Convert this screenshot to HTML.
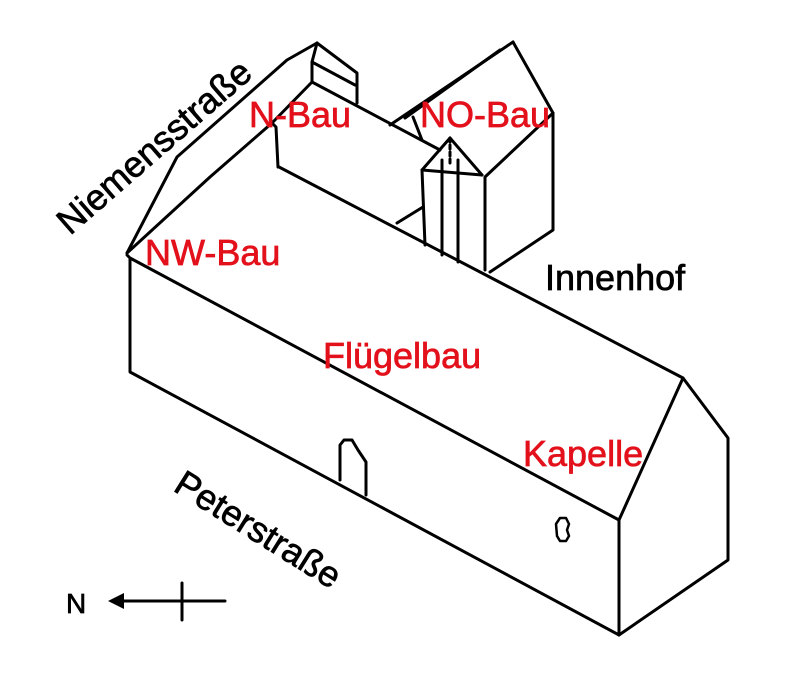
<!DOCTYPE html>
<html><head><meta charset="utf-8"><style>
html,body{margin:0;padding:0;background:#fff;}
svg{display:block;}
text{font-family:"Liberation Sans",sans-serif;}
</style></head><body>
<svg width="800" height="678" viewBox="0 0 800 678" xmlns="http://www.w3.org/2000/svg">
<g fill="none" stroke="#000" stroke-width="3" stroke-linejoin="round" stroke-linecap="round">
<path d="M127,255 L130,258 L130,372 L619,635 L619,520 L130,258"/>
<path d="M619,520 L683,378 L728,438 L728,560 L619,635"/>
<path d="M279,167 L683,378"/>
<path d="M127,253 L177,157 L287,60 L317,43"/>
<path d="M127,253 L210,177 L272,123 L312,82"/>
<path d="M317,43 L357,73 L357,103"/>
<path d="M312,82 L312,62 L317,43"/>
<path d="M312,62 L355,85"/>
<path d="M312,82 L440,150"/>
<path d="M272,123 L276,127 L278,167"/>
<path d="M513,42 L390,125"/>
<path d="M500,50 L405,118"/>
<path d="M513,42 L553,113 L553,230 L490,272"/>
<path d="M553,113 L485,177 L485,270"/>
<path d="M413,117 L422,140"/>
<path d="M450,138 L422,170 L425,245"/>
<path d="M450,138 L482,175"/>
<path d="M442,160 L442,255"/>
<path d="M458,160 L458,262"/>
<path d="M422,170 L482,175"/>
<path d="M397,223 L423,207"/>
<path d="M450,138 L450,165" stroke-dasharray="4 3"/>
<path d="M340,480 L340,445 L344,440 L352,440 L358,450 L366,462 L366,495"/>
<path d="M556,524 L560,518 L566,518 L569,524 L567,530 L569,536 L566,541 L560,541 L557,536 Z" stroke-width="2.5"/>
<path d="M120,601 L225,601 M182,583 L182,620"/>
</g>
<polygon points="108,601 124,593 124,609" fill="#000"/>
<text x="66" y="613" font-size="28" fill="#000" stroke="#000" stroke-width="0.7">N</text>
<g font-size="36" fill="#e3111b" stroke="#e3111b" stroke-width="0.7">
<text x="249" y="127">N-Bau</text>
<text x="420" y="127">NO-Bau</text>
<text x="145" y="265">NW-Bau</text>
<text x="323" y="368">Flügelbau</text>
<text x="523" y="466">Kapelle</text>
</g>
<g font-size="36" fill="#000" stroke="#000" stroke-width="0.7">
<text x="545" y="290">Innenhof</text>
<text x="0" y="0" transform="translate(70,236) rotate(-41)">Niemensstraße</text>
<text x="0" y="0" transform="translate(172,490) rotate(32)">Peterstraße</text>
</g>
</svg>
</body></html>
